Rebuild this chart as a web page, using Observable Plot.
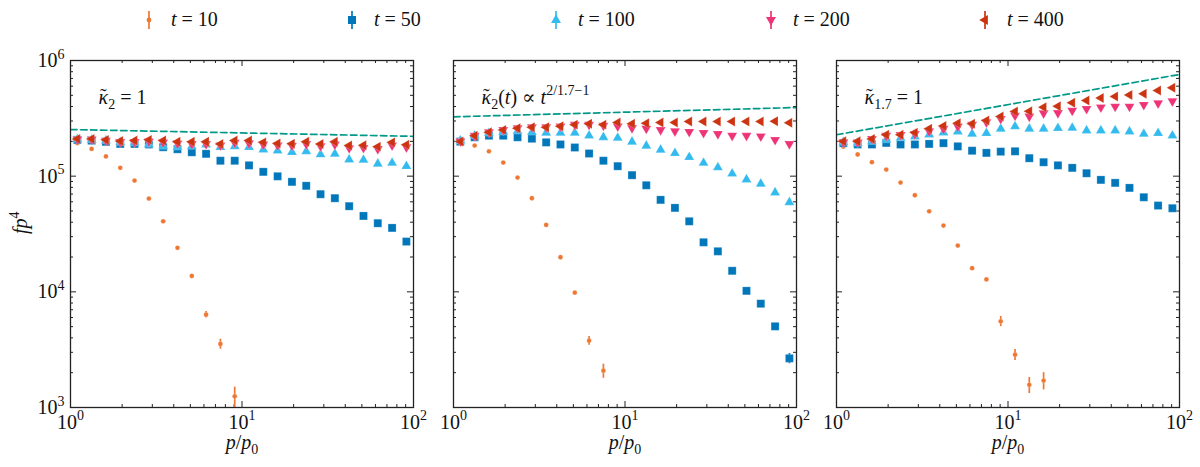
<!DOCTYPE html>
<html>
<head>
<meta charset="utf-8">
<script src="https://cdn.jsdelivr.net/npm/d3@7"></script>
<script src="https://cdn.jsdelivr.net/npm/@observablehq/plot@0.6"></script>
<style>
  body { margin: 0; background: #fff; font-family: "Liberation Serif", "DejaVu Serif", serif; }
  #fig { width: 1200px; height: 467px; position: relative; background: #fff; }
  #legend { position: relative; height: 40px; }
  .item { position: absolute; top: 0; height: 40px; font-size: 20px; color: #111; }
  .item svg { position: absolute; top: 8px; }
  .item span { position: absolute; top: 8px; white-space: nowrap; }
  #panels { display: flex; }
</style>
</head>
<body>
<div id="fig">
  <div id="legend"></div>
  <div id="panels"></div>
</div>
<script>
// momentum grid p/p0 (same in all panels)
const p = [1.096, 1.328, 1.609, 1.950, 2.363, 2.864, 3.470, 4.205, 5.096, 6.175, 7.483, 9.068,
  10.99, 13.31, 16.13, 19.55, 23.69, 28.71, 34.79, 42.16, 51.09, 61.91, 75.02, 90.91];

// panel A : kappa_2 = 1
const a10 = [1.93e5, 1.72e5, 1.48e5, 1.18e5, 9.16e4, 6.40e4, 4.07e4, 2.40e4, 1.37e4, 6.35e3, 3.54e3, 1.25e3];
const a10err = [0, 0, 0, 0, 0, 0, 0, 0, 2.5e2, 4.1e2, 3.5e2, 2.5e2];
const a50 = [2.06e5, 2.03e5, 1.98e5, 1.90e5, 1.90e5, 1.88e5, 1.78e5, 1.71e5, 1.61e5, 1.56e5, 1.36e5, 1.36e5,
  1.24e5, 1.09e5, 9.97e4, 8.93e4, 8.25e4, 6.98e4, 6.45e4, 5.50e4, 4.53e4, 3.92e4, 3.57e4, 2.72e4];
const a100 = [2.08e5, 2.06e5, 2.03e5, 1.96e5, 1.94e5, 1.88e5, 1.81e5, 1.78e5, 1.81e5, 1.87e5, 1.78e5, 1.81e5,
  1.78e5, 1.70e5, 1.66e5, 1.61e5, 1.64e5, 1.54e5, 1.56e5, 1.39e5, 1.38e5, 1.28e5, 1.30e5, 1.22e5];
const a200 = [2.08e5, 2.08e5, 2.03e5, 1.98e5, 1.98e5, 2.00e5, 1.96e5, 1.92e5, 1.90e5, 1.90e5, 1.85e5, 1.95e5,
  1.93e5, 1.88e5, 1.85e5, 1.84e5, 1.90e5, 1.82e5, 1.88e5, 1.75e5, 1.76e5, 1.72e5, 1.85e5, 1.78e5];
const a400 = [2.10e5, 2.10e5, 2.06e5, 2.01e5, 2.03e5, 2.06e5, 2.03e5, 1.98e5, 1.98e5, 1.98e5, 1.90e5, 2.03e5,
  2.03e5, 1.96e5, 1.92e5, 1.91e5, 1.98e5, 1.90e5, 1.98e5, 1.84e5, 1.85e5, 1.80e5, 1.96e5, 1.87e5];
const aFit = [2.53e5, 2.21e5];

// panel B : kappa_2(t) ~ t^(2/1.7-1)
const b10 = [1.96e5, 1.84e5, 1.64e5, 1.31e5, 9.72e4, 6.44e4, 3.79e4, 1.99e4, 9.84e3, 3.78e3, 2.08e3];
const b10err = [0, 0, 0, 0, 0, 0, 0, 0, 2.0e2, 3.3e2, 2.9e2];
const b50 = [1.99e5, 2.17e5, 2.24e5, 2.24e5, 2.17e5, 2.11e5, 1.96e5, 1.88e5, 1.77e5, 1.57e5, 1.36e5, 1.22e5,
  1.02e5, 8.34e4, 6.24e4, 5.32e4, 4.07e4, 2.68e4, 2.24e4, 1.52e4, 1.02e4, 7.90e3, 5.03e3, 2.66e3];
const b50err = [0, 0, 0, 0, 0, 0, 0, 0, 0, 0, 0, 0, 0, 0, 0, 0, 0, 0, 0, 0, 0, 0, 2.5e2, 2.7e2];
const b100 = [2.03e5, 2.24e5, 2.35e5, 2.40e5, 2.45e5, 2.40e5, 2.37e5, 2.37e5, 2.37e5, 2.24e5, 2.17e5, 2.14e5,
  1.98e5, 1.83e5, 1.69e5, 1.58e5, 1.46e5, 1.30e5, 1.19e5, 1.05e5, 9.35e4, 8.58e4, 7.21e4, 5.94e4];
const b200 = [2.00e5, 2.24e5, 2.40e5, 2.51e5, 2.60e5, 2.65e5, 2.65e5, 2.70e5, 2.79e5, 2.79e5, 2.74e5, 2.70e5,
  2.61e5, 2.58e5, 2.51e5, 2.45e5, 2.42e5, 2.37e5, 2.32e5, 2.24e5, 2.24e5, 2.21e5, 2.06e5, 1.90e5];
const b400 = [1.99e5, 2.24e5, 2.40e5, 2.51e5, 2.60e5, 2.65e5, 2.65e5, 2.70e5, 2.79e5, 2.84e5, 2.79e5, 2.91e5,
  2.84e5, 2.87e5, 2.91e5, 2.91e5, 2.97e5, 2.97e5, 2.97e5, 2.97e5, 2.97e5, 2.97e5, 2.99e5, 2.89e5];
const bFit = [3.26e5, 3.92e5];

// panel C : kappa_1.7 = 1
const c10 = [1.80e5, 1.54e5, 1.32e5, 1.14e5, 8.80e4, 6.84e4, 4.97e4, 3.74e4, 2.51e4, 1.60e4, 1.28e4, 5.56e3,
  2.86e3, 1.57e3, 1.71e3];
const c10err = [0, 0, 0, 0, 0, 0, 0, 0, 0, 0, 0, 5.6e2, 3.1e2, 2.5e2, 2.9e2];
const c50 = [1.93e5, 1.88e5, 1.88e5, 1.94e5, 1.88e5, 1.88e5, 1.90e5, 1.93e5, 1.81e5, 1.66e5, 1.59e5, 1.63e5,
  1.64e5, 1.43e5, 1.32e5, 1.24e5, 1.18e5, 1.06e5, 9.29e4, 8.75e4, 7.92e4, 6.57e4, 5.57e4, 5.28e4];
const c100 = [1.96e5, 1.93e5, 1.99e5, 2.06e5, 2.14e5, 2.20e5, 2.29e5, 2.38e5, 2.43e5, 2.32e5, 2.35e5, 2.57e5,
  2.69e5, 2.57e5, 2.57e5, 2.60e5, 2.61e5, 2.48e5, 2.48e5, 2.48e5, 2.43e5, 2.32e5, 2.35e5, 2.24e5];
const c200 = [1.96e5, 1.96e5, 2.10e5, 2.24e5, 2.28e5, 2.32e5, 2.45e5, 2.57e5, 2.69e5, 2.79e5, 2.93e5, 3.13e5,
  3.34e5, 3.28e5, 3.50e5, 3.52e5, 3.69e5, 3.82e5, 3.94e5, 4.00e5, 4.00e5, 4.14e5, 4.27e5, 4.45e5];
const c400 = [2.00e5, 2.00e5, 2.10e5, 2.28e5, 2.28e5, 2.38e5, 2.57e5, 2.72e5, 2.87e5, 2.84e5, 3.03e5, 3.28e5,
  3.62e5, 3.64e5, 3.94e5, 4.03e5, 4.31e5, 4.51e5, 4.75e5, 4.89e5, 5.04e5, 5.15e5, 5.50e5, 5.81e5];
const cFit = [2.28e5, 7.57e5];

const fitP = [1, 100];
const times = [10, 50, 100, 200, 400];
const notes = ["κ̃_{2} = 1", "κ̃_{2}(t) ∝ t^{2/1.7−1}", "κ̃_{1.7} = 1"];

const colors = {10: "#EE7733", 50: "#0077BB", 100: "#33BBEE", 200: "#EE3377", 400: "#CC3311"};
const fitColor = "#009988";
const sym = {
  10: {symbol: "circle", r: 2.4, rotate: 0},
  50: {symbol: "square", r: 4.5, rotate: 0},
  100: {symbol: "triangle", r: 3.7, rotate: 0},
  200: {symbol: "triangle", r: 3.7, rotate: 180},
  400: {symbol: "triangle", r: 3.7, rotate: -90}
};
const FS = 20;

// LaTeX-ish text: ^{..} superscript, _{..} subscript, letters italic, U+0303 = tilde accent
function rich(el, src, size) {
  const runs = [];
  let level = 0;
  for (let i = 0; i < src.length; i++) {
    const c = src[i];
    if ((c === "^" || c === "_") && src[i + 1] === "{") { level = c === "^" ? 1 : -1; i++; continue; }
    if (c === "}" && level) { level = 0; continue; }
    if (c === "\u0303") { runs.push({s: "\u02dc", it: false, level, tilde: true}); continue; }
    const it = /[A-Za-z\u03b1-\u03c9]/.test(c);
    const last = runs[runs.length - 1];
    if (last && !last.tilde && last.it === it && last.level === level) last.s += c;
    else runs.push({s: c, it, level});
  }
  el.textContent = "";
  let off = 0, pendingDx = 0;
  for (const r of runs) {
    let target = r.level > 0 ? -0.42 * size : r.level < 0 ? 0.25 * size : 0;
    const ts = document.createElementNS("http://www.w3.org/2000/svg", "tspan");
    ts.textContent = r.s;
    ts.setAttribute("font-size", r.level ? size * 0.7 : size);
    if (r.it) ts.setAttribute("font-style", "italic");
    let dx = pendingDx;
    pendingDx = 0;
    if (r.tilde) { dx -= 0.40 * size; target -= 0.02 * size; pendingDx = 0.07 * size; }
    const dy = target - off;
    if (dy) ts.setAttribute("dy", dy);
    if (dx) ts.setAttribute("dx", dx);
    off = target;
    el.appendChild(ts);
  }
}

const W = 343, H = 347;
const near = d => Math.abs(Math.log10(d) - Math.round(Math.log10(d))) < 1e-9;
const yt = d3.scaleLog().domain([1e3, 1e6]).ticks();
const xt = d3.scaleLog().domain([1, 100]).ticks();
const yMaj = yt.filter(near), yMin = yt.filter(d => !near(d));
const xMaj = xt.filter(near), xMin = xt.filter(d => !near(d));
const pow10 = d => `10^{${Math.round(Math.log10(d))}}`;

function panel({series, fit, note, width, ml, mr, first}) {
  const tick = {stroke: "#222", strokeWidth: 1};
  const marks = [
    Plot.tickY(yMaj, {y: d => d, insetRight: W - 6, ...tick}),
    Plot.tickY(yMaj, {y: d => d, insetLeft: W - 6, ...tick}),
    Plot.tickY(yMin, {y: d => d, insetRight: W - 3, ...tick}),
    Plot.tickY(yMin, {y: d => d, insetLeft: W - 3, ...tick}),
    Plot.tickX(xMaj, {x: d => d, insetTop: H - 6, ...tick}),
    Plot.tickX(xMaj, {x: d => d, insetBottom: H - 6, ...tick}),
    Plot.tickX(xMin, {x: d => d, insetTop: H - 3, ...tick}),
    Plot.tickX(xMin, {x: d => d, insetBottom: H - 3, ...tick}),
    Plot.line(fitP.map((x, i) => ({p: x, v: fit[i]})), {
      x: "p", y: "v", stroke: fitColor, strokeWidth: 1.7, strokeDasharray: "6.5,3.5", clip: true
    })
  ];
  for (const t of times) {
    const s = series[t];
    const rows = s.v.map((v, i) => ({p: p[i], v, e: s.err ? s.err[i] : 0}));
    marks.push(Plot.ruleX(rows.filter(d => d.e > 0), {
      x: "p", y1: d => d.v - d.e, y2: d => d.v + d.e, stroke: colors[t], strokeWidth: 1.7, clip: true
    }));
    marks.push(Plot.dot(rows, {
      x: "p", y: "v", fill: colors[t], stroke: "white", strokeOpacity: 0.35, strokeWidth: 0.6,
      symbol: sym[t].symbol, r: sym[t].r, rotate: sym[t].rotate
    }));
  }
  marks.push(Plot.frame({stroke: "#222", strokeWidth: 1.3}));
  marks.push(Plot.text([note], {text: d => d, frameAnchor: "top-left", textAnchor: "start", dx: 28, dy: 29, fill: "#111"}));
  marks.push(Plot.text(["p/p_{0}"], {text: d => d, frameAnchor: "bottom", dy: 41, fill: "#111"}));
  marks.push(Plot.axisX(xMaj, {tickSize: 0, tickPadding: 7, tickFormat: pow10, label: null, fill: "#111"}));
  if (first) {
    marks.push(Plot.axisY(yMaj, {tickSize: 0, tickPadding: 6, tickFormat: pow10, label: null, fill: "#111"}));
    marks.push(Plot.text(["fp^{4}"], {text: d => d, frameAnchor: "left", dx: -50, rotate: -90, fill: "#111"}));
  }
  const svg = Plot.plot({
    width, height: 427, marginTop: 20, marginBottom: 60, marginLeft: ml, marginRight: mr,
    style: {fontFamily: '"Liberation Serif", "DejaVu Serif", serif', fontSize: FS + "px", background: "white", overflow: "visible"},
    x: {type: "log", domain: [1, 100], axis: null},
    y: {type: "log", domain: [1e3, 1e6], axis: null},
    marks
  });
  svg.querySelectorAll('g[aria-label="text"] text, g[aria-label="x-axis tick label"] text, g[aria-label="y-axis tick label"] text')
    .forEach(el => rich(el, el.textContent, FS));
  return svg;
}

const panels = [
  {series: {10: {v: a10, err: a10err}, 50: {v: a50}, 100: {v: a100}, 200: {v: a200}, 400: {v: a400}},
   fit: aFit, note: notes[0], width: 433, ml: 70, mr: 20, first: true},
  {series: {10: {v: b10, err: b10err}, 50: {v: b50, err: b50err}, 100: {v: b100}, 200: {v: b200}, 400: {v: b400}},
   fit: bFit, note: notes[1], width: 383, ml: 20, mr: 20},
  {series: {10: {v: c10, err: c10err}, 50: {v: c50}, 100: {v: c100}, 200: {v: c200}, 400: {v: c400}},
   fit: cFit, note: notes[2], width: 384, ml: 20, mr: 21}
];
const holder = document.getElementById("panels");
panels.forEach(cfg => holder.append(panel(cfg)));

// legend
const legendX = [149, 352, 556, 771, 985];
const symbolMap = {circle: d3.symbolCircle, square: d3.symbolSquare, triangle: d3.symbolTriangle};
const legend = d3.select("#legend");
times.forEach((t, i) => {
  const item = legend.append("div").attr("class", "item").style("left", (legendX[i] - 9) + "px");
  const s = item.append("svg").attr("width", 18).attr("height", 24);
  s.append("line").attr("x1", 9).attr("x2", 9).attr("y1", 3).attr("y2", 21)
    .attr("stroke", colors[t]).attr("stroke-width", 1.7);
  s.append("path")
    .attr("d", d3.symbol(symbolMap[sym[t].symbol], Math.PI * sym[t].r * sym[t].r)())
    .attr("transform", `translate(9,12) rotate(${sym[t].rotate})`)
    .attr("fill", colors[t]);
  item.append("span").style("left", "31px").html(`<i>t</i> = ${t}`);
});
</script>
</body>
</html>
